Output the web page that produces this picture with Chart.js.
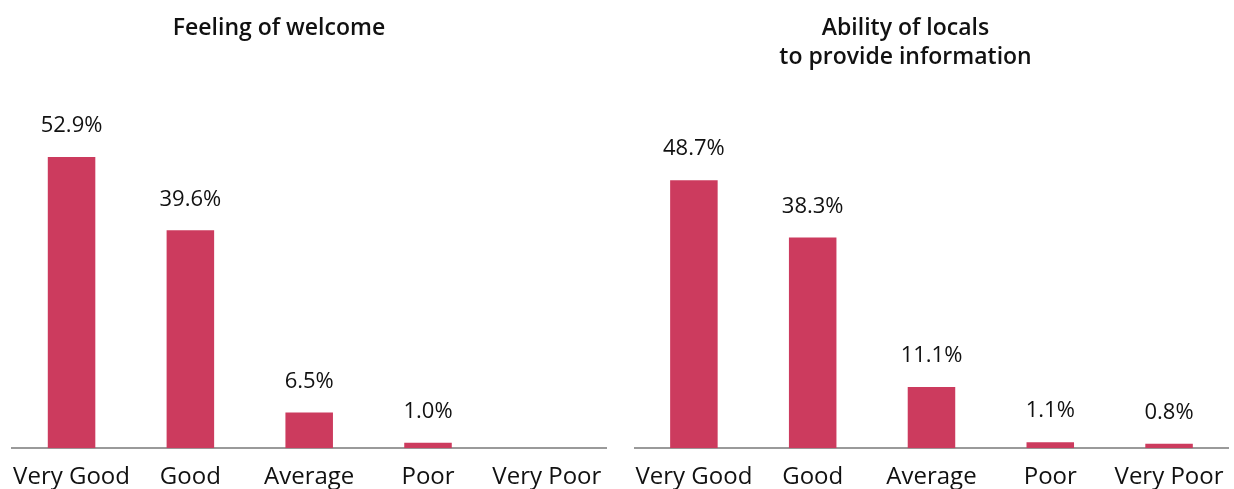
<!DOCTYPE html>
<html>
<head>
<meta charset="utf-8">
<script src="https://cdn.jsdelivr.net/npm/chart.js@4/dist/chart.umd.min.js"></script>
<style>
  html, body { margin: 0; padding: 0; background: #fff; overflow: hidden; }
  .wrap { position: absolute; top: 0; height: 489px; }
  #leftWrap { left: -3px; width: 620px; }
  #rightWrap { left: 617px; width: 622px; }
</style>
</head>
<body>
<div class="wrap" id="leftWrap"><canvas id="chartWelcome"></canvas></div>
<div class="wrap" id="rightWrap"><canvas id="chartInfo"></canvas></div>
<script>
const categories = ["Very Good", "Good", "Average", "Poor", "Very Poor"];
const welcomeValues = [52.9, 39.6, 6.5, 1.0, null];
const infoValues = [48.7, 38.3, 11.1, 1.1, 0.8];
const welcomeTitle = ["Feeling of welcome"];
const infoTitle = ["Ability of locals", "to provide information"];

const FONT = "'Open Sans', Lato, sans-serif";
const BAR_COLOR = "#cc3b5e";

// value labels above each bar
const valueLabels = {
  id: "valueLabels",
  afterDatasetsDraw(chart) {
    const ctx = chart.ctx;
    const meta = chart.getDatasetMeta(0);
    const data = chart.data.datasets[0].data;
    ctx.save();
    ctx.font = "22px " + FONT;
    ctx.fillStyle = "#111";
    ctx.textAlign = "center";
    ctx.textBaseline = "middle";
    meta.data.forEach((bar, i) => {
      if (data[i] == null) return;
      ctx.fillText(data[i].toFixed(1) + "%", bar.x, bar.y - 31);
    });
    ctx.restore();
  }
};

// title sits a bit left of the plot centre in the original
const sideTitle = {
  id: "sideTitle",
  afterDraw(chart, args, opts) {
    const ctx = chart.ctx;
    ctx.save();
    ctx.font = "600 23px " + FONT;
    ctx.fillStyle = "#111";
    ctx.textAlign = "center";
    ctx.textBaseline = "middle";
    opts.lines.forEach((line, i) => ctx.fillText(line, opts.x, 28 + i * 29));
    ctx.restore();
  }
};

function makeChart(el, values, title, pad) {
  return new Chart(el, {
    type: "bar",
    data: {
      labels: categories,
      datasets: [{
        data: values,
        backgroundColor: BAR_COLOR,
        categoryPercentage: 1,
        barPercentage: 0.4
      }]
    },
    options: {
      responsive: true,
      maintainAspectRatio: false,
      animation: false,
      layout: { padding: { left: pad.left, right: pad.right, top: 118, bottom: -18 } },
      plugins: {
        legend: { display: false },
        tooltip: { enabled: false },
        title: { display: false },
        sideTitle: { lines: title, x: pad.titleX }
      },
      scales: {
        x: {
          grid: { display: false, drawTicks: false },
          border: { color: "#9a9a9a", width: 2 },
          ticks: { color: "#111", font: { family: FONT, size: 24 }, padding: 15, maxRotation: 0, autoSkip: false }
        },
        y: { display: false, min: 0, max: 60 }
      }
    },
    plugins: [valueLabels, sideTitle]
  });
}

makeChart(document.getElementById("chartWelcome"), welcomeValues, welcomeTitle,
  { left: 11.5, right: 10.5, titleX: 282 });
makeChart(document.getElementById("chartInfo"), infoValues, infoTitle,
  { left: 17.5, right: 4.5, titleX: 288.5 });
</script>
</body>
</html>
